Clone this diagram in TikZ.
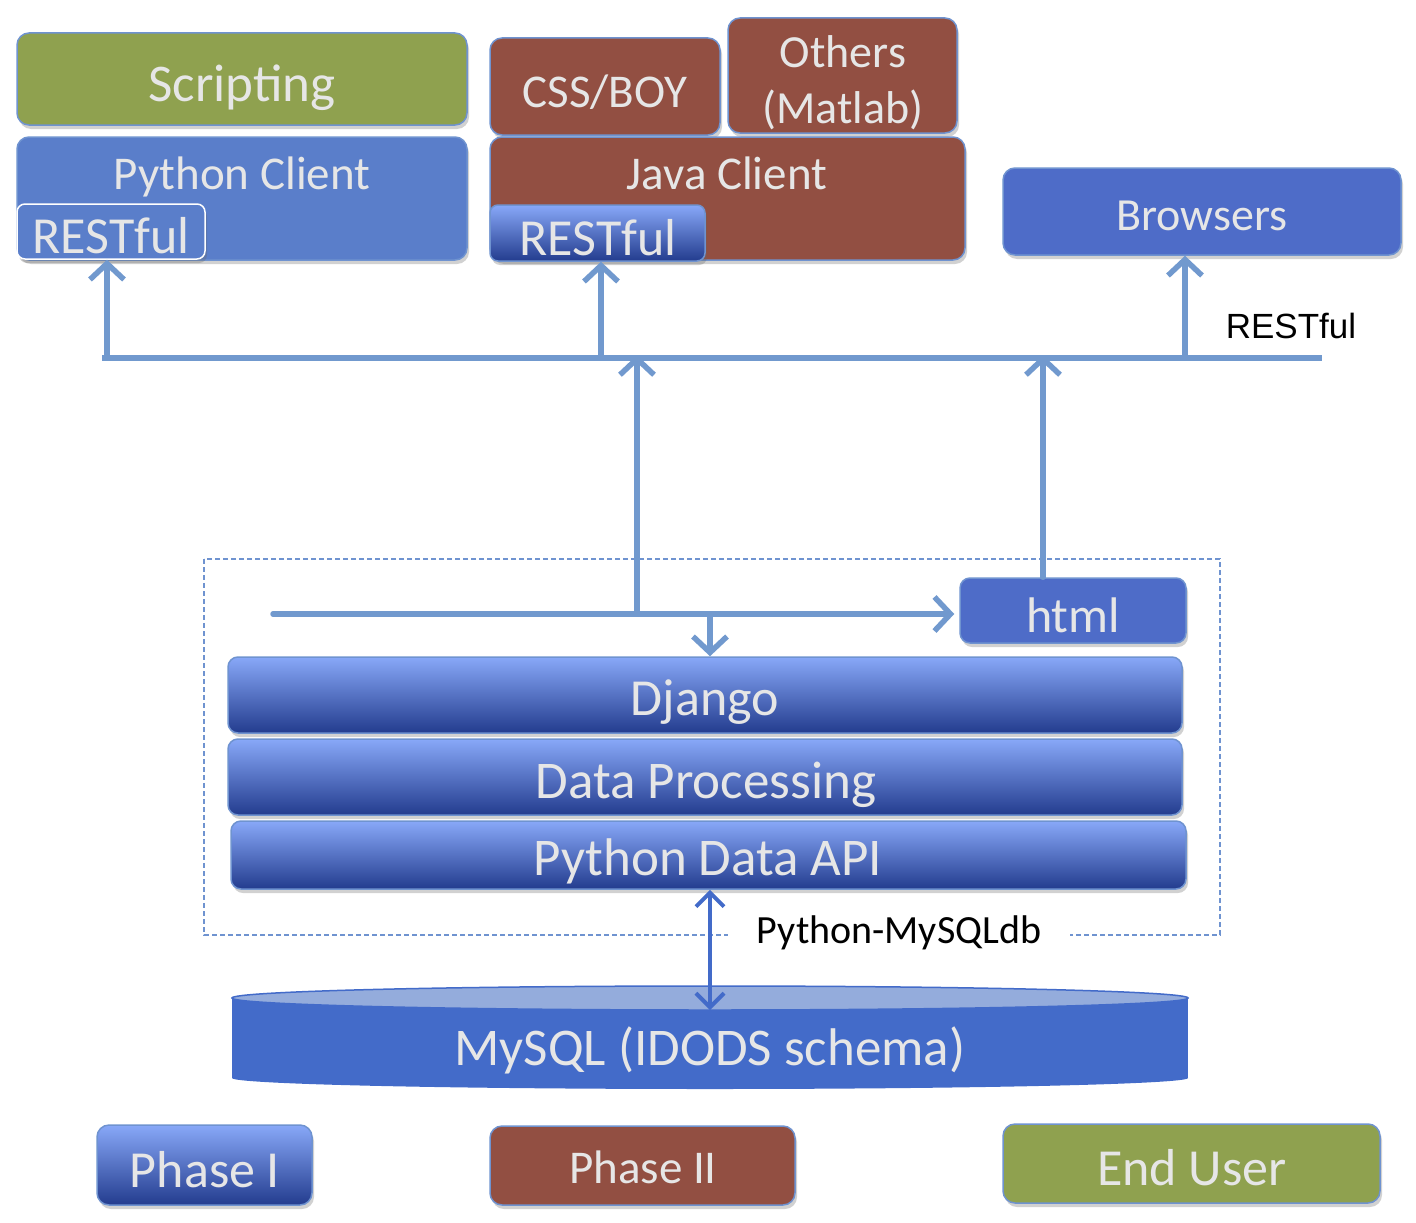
\documentclass[tikz,border=0pt]{standalone}
\usepackage{fontspec}
\setmainfont{Carlito}
\newfontfamily\labelfont{Liberation Sans}
\usetikzlibrary{arrows.meta,shadows}
\definecolor{scriptgreen}{HTML}{8FA14F}
\definecolor{javabrown}{HTML}{924F42}
\definecolor{pyblue}{HTML}{5A7ECA}
\definecolor{webblue}{HTML}{4E6CC8}
\definecolor{boxedge}{HTML}{6F93D0}
\definecolor{gradtop}{HTML}{88A8F8}
\definecolor{gradbot}{HTML}{233C8E}
\definecolor{linkblue}{HTML}{7199CE}
\definecolor{dbblue}{HTML}{436BC9}
\definecolor{dbtopblue}{HTML}{94ACDC}
\definecolor{boxtext}{HTML}{E6E6E6}
\newcommand\fsz[1]{\fontsize{#1}{#1}\selectfont}

\begin{document}
\begin{tikzpicture}[x=1pt,y=-1pt,
  box/.style={draw=boxedge,line width=1.5pt,rounded corners=12pt,inner sep=0pt,
    drop shadow={shadow xshift=2pt,shadow yshift=-4pt,opacity=0.3,fill=black!60}},
  layer/.style={box,top color=gradtop,bottom color=gradbot},
  txt/.style={text=boxtext,anchor=base,inner sep=0pt},
  flow/.style={draw=linkblue,line width=5.5pt,line cap=round,-{Straight Barb[length=16pt,width=34pt]}},
  bus/.style={draw=linkblue,line width=5.5pt},
  dblink/.style={draw=dbblue,line width=4pt,{Straight Barb[length=14pt,width=28pt]}-{Straight Barb[length=14pt,width=28pt]}}]
        \useasboundingbox (0,0) rectangle (1416,1223);
        % clients
        \node[box,fill=scriptgreen,minimum width=450pt,minimum height=92pt] (scripting) at (242,79) {};
        \node[box,fill=pyblue,minimum width=450pt,minimum height=123pt] (pyclient) at (242,198.5) {};
        \node[box,draw=white,fill=pyblue,rounded corners=8pt,minimum width=188pt,minimum height=55pt] (pyrest) at (111,231.5) {};
        \node[box,fill=javabrown,minimum width=230pt,minimum height=97pt] (cssboy) at (605,86.5) {};
        \node[box,fill=javabrown,minimum width=229pt,minimum height=115pt] (others) at (842.5,75.5) {};
        \node[box,fill=javabrown,minimum width=475pt,minimum height=123pt] (javaclient) at (727.5,198.5) {};
        \node[layer,rounded corners=8pt,minimum width=215pt,minimum height=56pt] (javarest) at (597.5,233) {};
        \node[box,fill=webblue,minimum width=398pt,minimum height=87pt] (browsers) at (1202,211.5) {};
        \node[txt,font=\fsz{53}] (scriptingtext) at (242,101) {Scripting};
        \node[txt,font=\fsz{47}] (pyclienttext) at (242,189) {Python Client};
        \node[txt,font=\fsz{52}] (pyresttext) at (111,253) {RESTful};
        \node[txt,font=\fsz{47}] (cssboytext) at (605,107) {CSS/BOY};
        \node[txt,font=\fsz{46}] (otherstext) at (843,67) {Others};
        \node[txt,font=\fsz{46}] (matlabtext) at (843,123) {(Matlab)};
        \node[txt,font=\fsz{47}] (javaclienttext) at (727,189) {Java Client};
        \node[txt,font=\fsz{52}] (javaresttext) at (598,255) {RESTful};
        \node[txt,font=\fsz{46}] (browserstext) at (1202,230) {Browsers};
        \node[anchor=base,inner sep=0pt,font=\labelfont\fsz{35}] (restlabel) at (1291,338) {RESTful};
        % bus
        \coordinate (busL) at (102,358);
        \coordinate (busR) at (1322,358);
        \draw[bus] (busL) -- (busR);
        \draw[flow] ([xshift=-4pt]pyrest.south |- busL) -- ([xshift=-4pt]pyrest.south);
        \draw[flow] ([xshift=3.5pt]javarest.south |- busL) -- ([xshift=3.5pt]javarest.south);
        \draw[flow] ([xshift=-17pt]browsers.south |- busL) -- ([xshift=-17pt]browsers.south);
        % server
        \draw[boxedge,line width=1.5pt,dash pattern=on 5pt off 3pt] (204,559) rectangle (1220,935);
        \node[box,fill=webblue,rounded corners=10pt,minimum width=226pt,minimum height=65pt] (html) at (1073,610.5) {};
        \node[layer,rounded corners=10pt,minimum width=954pt,minimum height=76pt] (django) at (705,695) {};
        \node[layer,rounded corners=10pt,minimum width=954pt,minimum height=76pt] (processing) at (705,777) {};
        \node[layer,rounded corners=10pt,minimum width=955pt,minimum height=68pt] (dataapi) at (708.5,855) {};
        \node[txt,font=\fsz{50}] (htmltext) at (1073,632) {html};
        \node[txt,font=\fsz{52}] (djangotext) at (705,715) {Django};
        \node[txt,font=\fsz{53}] (processingtext) at (706,798) {Data Processing};
        \node[txt,font=\fsz{53}] (dataapitext) at (708,875) {Python Data API};
        \coordinate (hstart) at (273,614);
        \coordinate (split) at (637,614);
        \coordinate (drop) at (710,614);
        \draw[flow] (hstart) -- ([xshift=-5pt]hstart -| html.west);
        \draw[flow] (split) -- ([yshift=3pt]split |- busL);
        \draw[flow] ([xshift=-30pt]html.north) -- ([xshift=-30pt,yshift=3pt]html.north |- busL);
        \draw[flow] (drop) -- (drop |- django.north);
        % database
        \fill[dbblue] (232,998) rectangle (1188,1078);
        \fill[dbblue] (710,1078) ellipse[x radius=478,y radius=11];
        \filldraw[fill=dbtopblue,draw=dbblue,line width=1.5pt] (710,998) ellipse[x radius=478,y radius=12];
        \node[txt,font=\fsz{53}] (mysqltext) at (710,1065) {MySQL (IDODS schema)};
        \coordinate (dbtop) at (710,1010);
        \draw[dblink] ([xshift=1.5pt]dataapi.south) -- (dbtop);
        \node[fill=white,inner sep=0pt,minimum width=342pt,minimum height=35pt,font=\fsz{40}] (mysqldb) at (899,933) {Python-MySQLdb};
        % legend
        \node[layer,minimum width=215pt,minimum height=80pt] (phaseone) at (204.5,1165) {};
        \node[box,fill=javabrown,minimum width=305pt,minimum height=79pt] (phasetwo) at (642.5,1165.5) {};
        \node[box,fill=scriptgreen,minimum width=377pt,minimum height=79pt] (enduser) at (1191.5,1163.5) {};
        \node[txt,font=\fsz{52}] (phaseonetext) at (205,1187) {Phase I};
        \node[txt,font=\fsz{47}] (phasetwotext) at (643,1183) {Phase II};
        \node[txt,font=\fsz{52}] (endusertext) at (1192,1185) {End User};
      \end{tikzpicture}
\end{document}
